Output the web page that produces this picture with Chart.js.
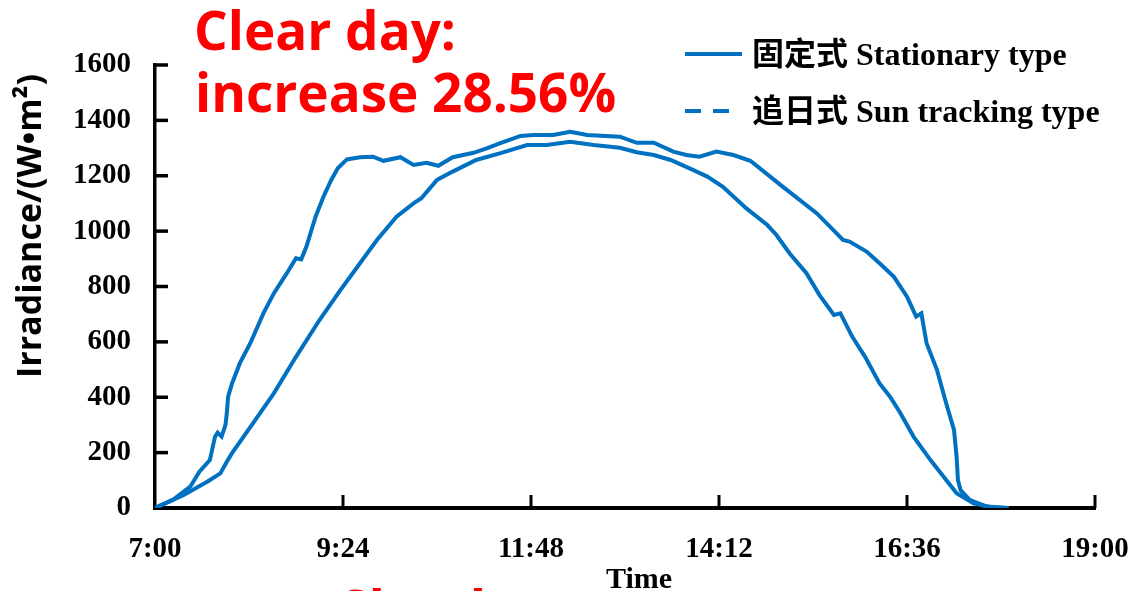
<!DOCTYPE html>
<html>
<head>
<meta charset="utf-8">
<script src="https://cdn.jsdelivr.net/npm/chart.js@4/dist/chart.umd.min.js"></script>
<style>
  html, body { margin: 0; padding: 0; background: #fff; }
  #wrap { width: 1135px; height: 591px; position: relative; }
</style>
</head>
<body>
<div id="wrap"><canvas id="irr_chart"></canvas></div>
<script>
// clock times of the x axis ticks
const timeTicks = ['7:00', '9:24', '11:48', '14:12', '16:36', '19:00'];

// 固定式 (stationary) panel
const fixedTime = ['7:00', '7:22', '7:40', '7:50', '7:55', '7:59', '8:15', '8:31', '8:48', '9:06',
    '9:22', '9:37', '9:50', '10:05', '10:18', '10:24', '10:36', '10:48', '11:06', '11:24',
    '11:45', '12:00', '12:18', '12:36', '12:56', '13:09', '13:22', '13:35', '13:52', '14:03',
    '14:15', '14:33', '14:49', '14:56', '15:06', '15:19', '15:29', '15:40', '15:45', '15:54',
    '16:04', '16:15', '16:23', '16:31', '16:41', '16:54', '17:06', '17:14', '17:27', '17:40', '17:51'];
const fixedIrr = [0, 47, 95, 125, 167, 198, 306, 414, 546, 679,
    787, 884, 968, 1052, 1100, 1119, 1185, 1215, 1257, 1281,
    1311, 1311, 1323, 1311, 1301, 1285, 1275, 1257, 1221, 1197,
    1160, 1082, 1022, 986, 920, 848, 769, 697, 703, 619,
    545, 450, 402, 342, 258, 173, 101, 53, 17, 3, 0];

// 追日式 (sun tracking) panel
const trackTime = ['7:00', '7:14', '7:27', '7:34', '7:42', '7:46', '7:48', '7:51', '7:54', '7:55',
    '7:56', '7:59', '8:05', '8:13', '8:23', '8:31', '8:41', '8:48', '8:52', '8:56',
    '9:03', '9:09', '9:15', '9:20', '9:27', '9:37', '9:47', '9:55', '10:08', '10:18',
    '10:28', '10:37', '10:48', '11:04', '11:14', '11:24', '11:40', '11:50', '12:05', '12:18',
    '12:31', '12:56', '13:09', '13:22', '13:37', '13:47', '13:57', '14:10', '14:23', '14:36',
    '15:01', '15:27', '15:47', '15:52', '16:05', '16:15', '16:26', '16:36', '16:43', '16:47',
    '16:51', '16:59', '17:06', '17:12', '17:14', '17:15', '17:17', '17:24', '17:37', '17:54'];
const trackIrr = [0, 30, 77, 131, 173, 258, 272, 258, 300, 342,
    402, 450, 523, 595, 703, 775, 848, 902, 898, 944,
    1052, 1124, 1185, 1227, 1259, 1267, 1269, 1254, 1267, 1239,
    1247, 1236, 1267, 1283, 1299, 1317, 1344, 1347, 1347, 1359,
    1347, 1341, 1319, 1319, 1287, 1275, 1269, 1287, 1275, 1254,
    1160, 1064, 968, 962, 926, 884, 835, 763, 691, 703,
    595, 498, 378, 282, 185, 101, 65, 29, 5, 0];

const seriesNames = ['固定式 Stationary type', '追日式 Sun tracking type'];
const lineBlue = '#0070C0';

const toMin = (t) => {
    const [h, m] = t.split(':').map(Number);
    return h * 60 + m;
};
const toClock = (v) => Math.floor(v / 60) + ':' + String(Math.round(v % 60)).padStart(2, '0');
const pairUp = (times, vals) => times.map((t, i) => ({ x: toMin(t), y: vals[i] }));

const serif = "'Liberation Serif', 'Times New Roman', serif";
const sans = "'Open Sans', 'Noto Sans', sans-serif";

// inward tick marks, legend and the free text around the plot
const decorations = {
    id: 'decorations',
    afterDraw(chart) {
        const { ctx, scales: { x, y } } = chart;
        ctx.save();
        ctx.strokeStyle = '#000';
        ctx.lineCap = 'butt';

        ctx.lineWidth = 3.5;
        y.ticks.forEach(t => {
            if (t.value === 0) return;
            const py = y.getPixelForValue(t.value);
            ctx.beginPath();
            ctx.moveTo(x.left, py);
            ctx.lineTo(x.left + 13, py);
            ctx.stroke();
        });
        ctx.lineWidth = 3;
        x.ticks.forEach(t => {
            if (t.value === x.min) return;
            const px = x.getPixelForValue(t.value);
            ctx.beginPath();
            ctx.moveTo(px, y.bottom);
            ctx.lineTo(px, y.bottom - 13);
            ctx.stroke();
        });

        // legend
        const rows = [
            { ds: chart.data.datasets[0], y: 54, dash: [], end: 742 },
            { ds: chart.data.datasets[1], y: 111, dash: [16, 12], end: 730 },
        ];
        rows.forEach((r) => {
            ctx.strokeStyle = r.ds.borderColor;
            ctx.lineWidth = 4;
            ctx.setLineDash(r.dash);
            ctx.beginPath();
            ctx.moveTo(685, r.y);
            ctx.lineTo(r.end, r.y);
            ctx.stroke();
            ctx.setLineDash([]);
            ctx.fillStyle = '#000';
            ctx.font = "bold 32px 'Liberation Serif', 'Noto Sans CJK SC', serif";
            ctx.textAlign = 'left';
            ctx.textBaseline = 'alphabetic';
            ctx.fillText(r.ds.label, 752, r.y + 11);
        });

        // axis titles
        ctx.fillStyle = '#000';
        ctx.font = 'bold 30px ' + serif;
        ctx.textAlign = 'center';
        ctx.fillText('Time', 639, 588);

        ctx.save();
        ctx.translate(31, 226);
        ctx.rotate(-Math.PI / 2);
        ctx.font = 'bold 34px ' + sans;
        ctx.textBaseline = 'middle';
        ctx.fillText('Irradiance/(W•m²)', 0, 0);
        ctx.restore();

        // red notes
        ctx.fillStyle = '#FF0000';
        ctx.font = 'bold 53px ' + sans;
        ctx.textAlign = 'left';
        ctx.fillText('Clear day:', 194, 50);
        ctx.fillText('increase 28.56%', 195, 112);
        ctx.fillText('Cloudy', 335, 629);
        ctx.restore();
    }
};

const irrChart = new Chart(document.getElementById('irr_chart'), {
    type: 'line',
    data: {
        datasets: [{
            label: seriesNames[0],
            data: pairUp(fixedTime, fixedIrr),
            borderColor: lineBlue,
            borderWidth: 4,
            pointRadius: 0,
            tension: 0,
        }, {
            label: seriesNames[1],
            data: pairUp(trackTime, trackIrr),
            borderColor: lineBlue,
            borderWidth: 4,
            pointRadius: 0,
            tension: 0,
        }]
    },
    options: {
        responsive: true,
        maintainAspectRatio: false,
        animation: false,
        layout: { padding: { top: 65, right: 40, left: 0, bottom: 0 } },
        plugins: {
            legend: { display: false },
            tooltip: { enabled: false },
        },
        scales: {
            x: {
                type: 'linear',
                min: toMin(timeTicks[0]),
                max: toMin(timeTicks[timeTicks.length - 1]),
                afterBuildTicks: (scale) => {
                    scale.ticks = timeTicks.map(t => ({ value: toMin(t) }));
                },
                afterFit: (scale) => {
                    scale.height = 83;
                    scale.paddingLeft = 0;
                    scale.paddingRight = 0;
                },
                grid: { display: false, drawTicks: false },
                border: { display: true, color: '#000', width: 4 },
                ticks: {
                    autoSkip: false,
                    maxRotation: 0,
                    padding: 24,
                    color: '#000',
                    font: { family: serif, size: 29, weight: 'bold' },
                    callback: (v) => toClock(v),
                }
            },
            y: {
                min: 0,
                max: 1600,
                afterFit: (scale) => { scale.width = 155; },
                grid: { display: false, drawTicks: false },
                border: { display: true, color: '#000', width: 3.5 },
                ticks: {
                    stepSize: 200,
                    padding: 24,
                    color: '#000',
                    font: { family: serif, size: 29, weight: 'bold' },
                    callback: (v) => String(v),
                }
            }
        }
    },
    plugins: [decorations]
});
</script>
</body>
</html>
